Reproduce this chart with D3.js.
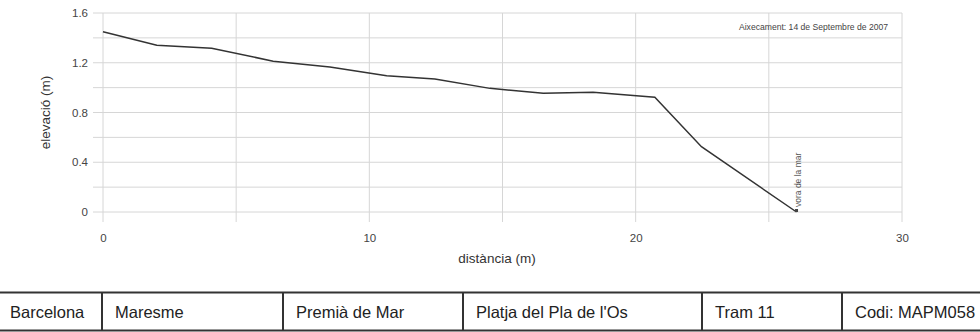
<!DOCTYPE html>
<html>
<head>
<meta charset="utf-8">
<script src="https://cdn.jsdelivr.net/npm/d3@7"></script>
<style>
  html, body { margin: 0; padding: 0; background: #fff; }
  svg { display: block; font-family: "Liberation Sans", Arial, sans-serif; }
</style>
</head>
<body>
<svg id="chart" width="980" height="332"></svg>
<script>
// ---- data ----
const distance = [0, 2.02, 4.08, 6.39, 8.52, 10.65, 12.46, 14.53, 16.53, 18.40, 20.72, 22.47, 26.04];
const elevation = [1.45, 1.34, 1.316, 1.213, 1.166, 1.096, 1.069, 0.994, 0.954, 0.962, 0.922, 0.525, 0.0];
const xTickLabels = [0, 10, 20, 30];
const yTickLabels = [0, 0.4, 0.8, 1.2, 1.6];
const xGridValues = [0, 5, 10, 15, 20, 25, 30];
const yGridValues = [0, 0.2, 0.4, 0.6, 0.8, 1.0, 1.2, 1.4, 1.6];
const xTitle = "distància (m)";
const yTitle = "elevació (m)";
const surveyNote = "Aixecament: 14 de Septembre de 2007";
const shoreLabel = "vora de la mar";
const shorePoint = [26.04, 0.0];
const tableCells = ["Barcelona", "Maresme", "Premià de Mar", "Platja del Pla de l'Os", "Tram 11", "Codi: MAPM058"];
const tableEdges = [-10, 102, 283, 463, 702, 842, 990];

// ---- drawing ----
const svg = d3.select("#chart");
const x = d3.scaleLinear().domain([0, 30]).range([103, 902]);
const y = d3.scaleLinear().domain([0, 1.6]).range([212, 13]);
const gridColor = "#d6d6d6";
const font = "Liberation Sans, Arial, sans-serif";

// grid lines
svg.append("g").selectAll("line").data(yGridValues).join("line")
  .attr("x1", x(0) - 10).attr("x2", x(30))
  .attr("y1", d => y(d)).attr("y2", d => y(d))
  .attr("stroke", gridColor).attr("stroke-width", 1);
svg.append("g").selectAll("line").data(xGridValues).join("line")
  .attr("x1", d => x(d)).attr("x2", d => x(d))
  .attr("y1", y(1.6)).attr("y2", y(0) + 10)
  .attr("stroke", gridColor).attr("stroke-width", 1);

// y tick labels
const gyl = svg.append("g").attr("transform", `translate(${x(0) - 10},0)`)
  .call(d3.axisLeft(y).tickValues(yTickLabels).tickSize(0).tickPadding(5)
    .tickFormat(d => d === 0 ? "0" : d3.format(".1f")(d)));
gyl.select(".domain").remove();
gyl.selectAll("text").attr("font-size", 11.5).attr("fill", "#444").attr("font-family", font);

// x tick labels
const gxl = svg.append("g").attr("transform", `translate(0,${y(0) + 10})`)
  .call(d3.axisBottom(x).tickValues(xTickLabels).tickSize(0).tickPadding(12).tickFormat(d3.format("d")));
gxl.select(".domain").remove();
gxl.selectAll("text").attr("font-size", 11.5).attr("fill", "#444").attr("font-family", font);

// axis titles
svg.append("text").attr("x", 497).attr("y", 263).attr("text-anchor", "middle")
  .attr("font-size", 13.5).attr("fill", "#333").text(xTitle);
svg.append("text").attr("transform", `translate(50,${(y(0) + y(1.6)) / 2}) rotate(-90)`)
  .attr("text-anchor", "middle").attr("font-size", 13.5).attr("fill", "#333").text(yTitle);

// profile line
const pts = distance.map((d, i) => [d, elevation[i]]);
svg.append("path").datum(pts)
  .attr("d", d3.line().x(d => x(d[0])).y(d => y(d[1])))
  .attr("fill", "none").attr("stroke", "#333").attr("stroke-width", 1.5);

// shore marker + label
svg.append("rect").attr("x", x(shorePoint[0]) - 1.5).attr("y", y(shorePoint[1]) - 3)
  .attr("width", 3).attr("height", 3).attr("fill", "#444");
svg.append("text")
  .attr("transform", `translate(${x(shorePoint[0]) + 4},${y(shorePoint[1]) - 5}) rotate(-90)`)
  .attr("font-size", 8.5).attr("fill", "#555").text(shoreLabel);

// survey note
svg.append("text").attr("x", 888).attr("y", 30).attr("text-anchor", "end")
  .attr("font-size", 8.6).attr("fill", "#444").text(surveyNote);

// ---- table ----
const table = svg.append("g");
table.append("line").attr("x1", 0).attr("x2", 980).attr("y1", 292.5).attr("y2", 292.5)
  .attr("stroke", "#333").attr("stroke-width", 2);
table.append("line").attr("x1", 0).attr("x2", 980).attr("y1", 330.5).attr("y2", 330.5)
  .attr("stroke", "#333").attr("stroke-width", 2);
table.selectAll(".div").data(tableEdges.slice(1, -1)).join("line")
  .attr("x1", d => d).attr("x2", d => d).attr("y1", 292).attr("y2", 331)
  .attr("stroke", "#333").attr("stroke-width", 2);
table.selectAll(".cell").data(tableCells).join("text")
  .attr("x", (d, i) => i === 0 ? 10 : tableEdges[i] + 13)
  .attr("y", 318)
  .attr("font-size", 16.5).attr("fill", "#222").text(d => d);
</script>
</body>
</html>
